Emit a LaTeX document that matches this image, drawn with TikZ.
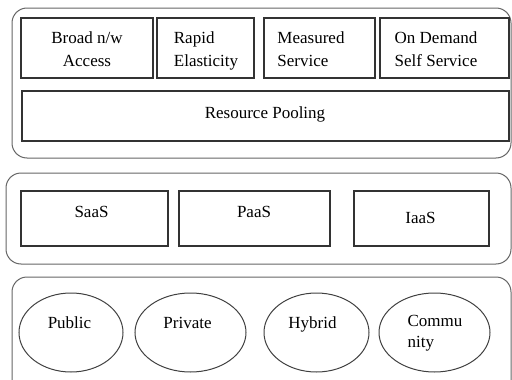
\documentclass[tikz,border=0pt]{standalone}
\usepackage{fontspec}
\setmainfont{Liberation Serif}
\usetikzlibrary{shapes.geometric}
\begin{document}
\begin{tikzpicture}[x=1pt,y=-1pt,
  frame/.style={draw=black!60, line width=1pt, rounded corners=15pt, inner sep=0pt, outer sep=0pt, anchor=north west},
  cell/.style={draw=black!80, line width=1.2pt, inner sep=0pt, outer sep=0pt, anchor=north west},
  oval/.style={draw=black!75, line width=1pt, ellipse, inner sep=0pt, outer sep=0pt, anchor=center, minimum height=79pt},
  lbl/.style={font=\fontsize{17}{23}\selectfont, inner sep=0pt, text=black}]
\useasboundingbox (0,0) rectangle (512,380);
% frames
\node[frame, minimum width=499pt, minimum height=150pt] (f1) at (12,8) {};
\node[frame, minimum width=505pt, minimum height=91pt] (f2) at (6,173) {};
\node[frame, minimum width=499pt, minimum height=120pt] (f3) at (12,277) {};
% characteristics
\node[cell, minimum width=132pt, minimum height=60pt] (c1) at (21,18) {};
\node[cell, minimum width=97pt, minimum height=60pt] (c2) at (157,18) {};
\node[cell, minimum width=111pt, minimum height=60pt] (c3) at (264,18) {};
\node[cell, minimum width=129pt, minimum height=60pt] (c4) at (380,18) {};
\node[cell, minimum width=487pt, minimum height=50pt] (c5) at (22,91) {};
\node[lbl, align=center, anchor=north] (t1) at (87,31.4) {Broad n/w\\Access};
\node[lbl, align=left, anchor=north] (t2) at (206,31.4) {Rapid\\Elasticity};
\node[lbl, align=left, anchor=north] (t3) at (311,31.4) {Measured\\Service};
\node[lbl, align=left, anchor=north] (t4) at (436,31.4) {On Demand\\Self Service};
\node[lbl, anchor=base] (t5) at (265,118) {Resource Pooling};
% service models
\node[cell, minimum width=147pt, minimum height=55pt] (s1) at (21,191) {};
\node[cell, minimum width=151pt, minimum height=55pt] (s2) at (179,191) {};
\node[cell, minimum width=135pt, minimum height=55pt] (s3) at (354,191) {};
\node[lbl, anchor=base] (u1) at (91.5,217) {SaaS};
\node[lbl, anchor=base] (u2) at (254,217) {PaaS};
\node[lbl, anchor=base] (u3) at (420.5,223) {IaaS};
% deployment models
\node[oval, minimum width=104pt] (d1) at (71,332.5) {};
\node[oval, minimum width=111pt] (d2) at (190.5,332.5) {};
\node[oval, minimum width=105pt] (d3) at (316.5,332.5) {};
\node[oval, minimum width=111pt] (d4) at (434.5,332.5) {};
\node[lbl, anchor=base] (e1) at (69.5,328) {Public};
\node[lbl, anchor=base] (e2) at (187.5,328) {Private};
\node[lbl, anchor=base] (e3) at (312.5,328) {Hybrid};
\node[lbl, align=left, anchor=north, font=\fontsize{17}{21}\selectfont] (e4) at (435,315.5) {Commu\\nity};
\end{tikzpicture}
\end{document}
